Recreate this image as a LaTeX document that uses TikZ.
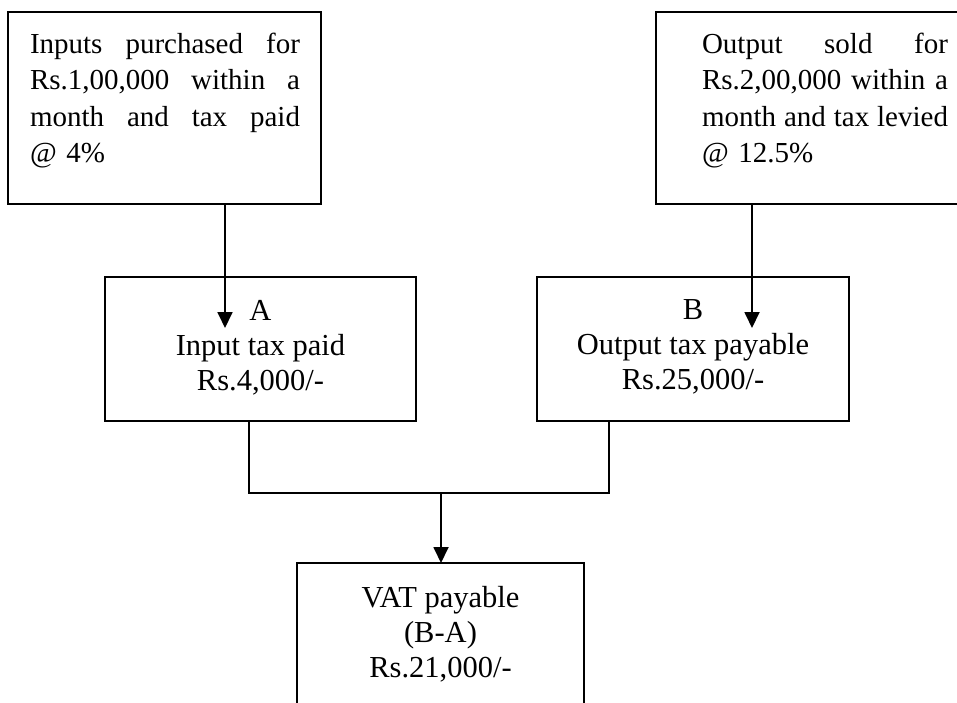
\documentclass[tikz,border=0pt]{standalone}
\usepackage{fontspec}
\setmainfont{Liberation Serif}
\usetikzlibrary{arrows.meta}
\newcommand{\jline}[2]{\leavevmode\hbox to #1{#2}}
\begin{document}
\begin{tikzpicture}[x=1pt,y=-1pt,
  box/.style={draw, line width=1.8pt, rectangle, inner sep=0pt, outer sep=0pt},
  txt/.style={inner sep=0pt, outer sep=0pt, align=left, anchor=north west, font=\fontsize{29}{36.5}\selectfont},
  ctxt/.style={inner sep=0pt, outer sep=0pt, align=center, anchor=north, font=\fontsize{30.5}{35}\selectfont},
  arr/.style={line width=1.8pt, -{Triangle[width=15pt,length=16pt]}},
  con/.style={line width=1.8pt}]
\useasboundingbox (0,0) rectangle (957,702);
\clip (0,0) rectangle (957,702);
% boxes
\node[box, minimum width=313pt, minimum height=192pt] (tl) at (164.5,108) {};
\node[box, minimum width=334pt, minimum height=192pt] (tr) at (823,108) {};
\node[box, minimum width=311pt, minimum height=144pt] (A) at (260.5,349) {};
\node[box, minimum width=312pt, minimum height=144pt] (B) at (693,349) {};
\node[box, minimum width=287pt, minimum height=177pt] (V) at (440.5,651.5) {};
% texts
\node[txt, text width=270pt] (tlt) at (30,33)
  {\jline{270pt}{Inputs\hfill purchased\hfill for}\\
   \jline{270pt}{Rs.1,00,000\hfill within\hfill a}\\
   \jline{270pt}{month\hfill and\hfill tax\hfill paid}\\
   @ 4\%};
\node[txt, text width=246pt] (trt) at (702,33)
  {\jline{246pt}{Output\hfill sold\hfill for}\\
   \jline{246pt}{Rs.2,00,000\hfill within\hfill a}\\
   \jline{246pt}{month\hfill and\hfill tax\hfill levied}\\
   @ 12.5\%};
\node[ctxt] (at) at (260.5,300) {A\\Input tax paid\\Rs.4,000/-};
\node[ctxt] (bt) at (693,300) {B\\Output tax payable\\Rs.25,000/-};
\node[ctxt] (vt) at (440.5,586) {VAT payable\\(B-A)\\Rs.21,000/-};
% connectors
\coordinate (ain) at (225,328);
\coordinate (bin) at (752,328);
\coordinate (ja) at (249,493);
\coordinate (jb) at (609,493);
\coordinate (j) at (441,493);
\draw[arr] (tl.south -| ain) -- (ain);
\draw[arr] (tr.south -| bin) -- (bin);
\draw[con] (A.south -| ja) -- (ja) -- (jb) -- (B.south -| jb);
\draw[arr] (j) -- (V.north -| j);
\end{tikzpicture}
\end{document}
